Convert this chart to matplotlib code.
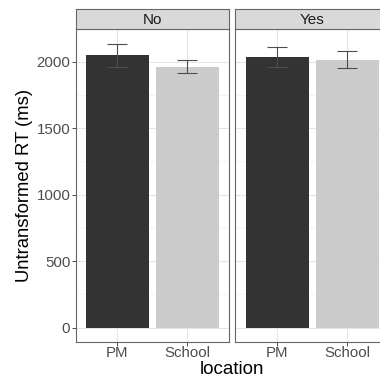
import matplotlib
matplotlib.use('Agg')
from matplotlib import pyplot as plt
import numpy as np

plt.rcParams['font.family'] = ['Liberation Sans', 'DejaVu Sans']

panels = ['No', 'Yes']
locations = ['PM', 'School']
means = {'No': [2048, 1962], 'Yes': [2033, 2015]}
errs = {'No': [88, 47], 'Yes': [73, 62]}
bar_colors = ['#333333', '#cccccc']

W, H = 380, 378
fig = plt.figure(figsize=(W / 100, H / 100), dpi=100)

top = max(max(m + e for m, e in zip(means[p], errs[p])) for p in panels)
pad = 0.05 * top
ylo, yhi = -pad, top + pad

panel_left = [75.5, 235]
panel_w = 154
y_top, y_bot = 29.3, 341.7
strip_top = 9.3

for i, p in enumerate(panels):
    ax = fig.add_axes([panel_left[i] / W, (H - y_bot) / H, panel_w / W, (y_bot - y_top) / H])
    x = np.arange(len(locations)) + 1
    # grid like theme_bw
    for yv in np.arange(250, 2250, 500):
        ax.axhline(yv, color='#f2f2f2', lw=0.5, zorder=0)
    for yv in np.arange(0, 2001, 500):
        ax.axhline(yv, color='#e5e5e5', lw=0.8, zorder=0)
    for xv in x:
        ax.axvline(xv, color='#e5e5e5', lw=0.8, zorder=0)
    ax.bar(x, means[p], width=0.9, color=bar_colors, zorder=2)
    ax.errorbar(x, means[p], yerr=errs[p], fmt='none', ecolor='#4d4d4d',
                elinewidth=0.8, capsize=7.5, capthick=0.8, zorder=3)
    ax.set_xlim(0.4, 2.6)
    ax.set_ylim(ylo, yhi)
    ax.set_xticks(x)
    ax.set_xticklabels(locations)
    ax.set_yticks(np.arange(0, 2001, 500))
    ax.tick_params(colors='#333333', labelcolor='#4d4d4d', labelsize=10.8,
                   length=2.75, width=0.6)
    ax.tick_params(axis='x', pad=0.6)
    ax.tick_params(axis='y', pad=1.0)
    if i > 0:
        ax.set_yticklabels([])
        ax.tick_params(axis='y', length=0)
    for s in ax.spines.values():
        s.set_color('#666666')
        s.set_linewidth(0.8)
    ax.set_facecolor('white')

    # facet strip
    sx = fig.add_axes([panel_left[i] / W, (H - y_top) / H, panel_w / W, (y_top - strip_top) / H])
    sx.set_facecolor('#d9d9d9')
    sx.set_xticks([]), sx.set_yticks([])
    for s in sx.spines.values():
        s.set_color('#666666')
        s.set_linewidth(0.8)
    sx.text(0.5, 0.45, p, ha='center', va='center', fontsize=11, color='#1a1a1a',
            transform=sx.transAxes)

fig.text(232 / W, (H - 374.5) / H, 'location', ha='center', va='baseline', fontsize=13.5)
fig.text(25 / W, (H - 185.5) / H, 'Untransformed RT (ms)', ha='center', va='center',
         rotation=90, fontsize=13.3)

fig.savefig('out.png', dpi=100)
